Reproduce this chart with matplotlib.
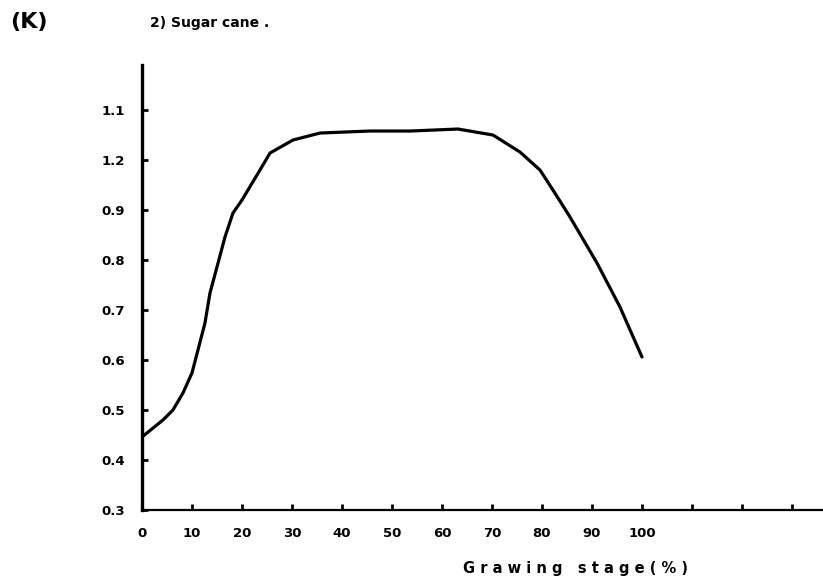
import matplotlib.pyplot as plt

# data
stage = [0, 4.2, 6.2, 8.2, 10, 11.2, 12.6, 13.6, 15, 16.6, 18.2, 20, 23.6, 25.6,
         30.2, 35.6, 45.6, 53.6, 63.2, 70.2, 75.6, 79.6, 82.2, 85.6, 91, 95.6, 100]
k_value = [0.446, 0.48, 0.50, 0.534, 0.574, 0.62, 0.674, 0.734, 0.786, 0.846, 0.894,
           0.92, 0.98, 1.014, 1.04, 1.054, 1.058, 1.058, 1.062, 1.05, 1.016, 0.98,
           0.94, 0.886, 0.794, 0.706, 0.606]

x_ticks = list(range(0, 140, 10))
x_labels = [str(t) if t <= 100 else "" for t in x_ticks]
y_ticks = [0.3, 0.4, 0.5, 0.6, 0.7, 0.8, 0.9, 1.0, 1.1]
y_labels = ["0.3", "0.4", "0.5", "0.6", "0.7", "0.8", "0.9", "1.2", "1.1"]  # as printed

fig = plt.figure(figsize=(8.23, 5.87), dpi=100)
ax = fig.add_axes([0.1725, 0.1312, 0.8275, 0.758])

ax.plot(stage, k_value, color="black", linewidth=2.3, solid_capstyle="round")

ax.set_xlim(0, 136.2)
ax.set_ylim(0.3, 1.19)
ax.set_xticks(x_ticks)
ax.set_xticklabels(x_labels, fontsize=9.5, fontweight="bold")
ax.set_yticks(y_ticks)
ax.set_yticklabels(y_labels, fontsize=9.5, fontweight="bold")
ax.tick_params(direction="in", length=4, width=2, color="black", pad=12)
ax.tick_params(axis="y", pad=12)

for side in ["top", "right"]:
    ax.spines[side].set_visible(False)
ax.spines["left"].set_linewidth(2.4)
ax.spines["bottom"].set_linewidth(1.6)

fig.text(0.012, 0.962, "(K)", fontsize=16, fontweight="bold", va="center")
fig.text(0.182, 0.96, "2) Sugar cane .", fontsize=10, fontweight="bold", va="center")
fig.text(0.699, 0.032, "G r a w i n g   s t a g e ( % )", fontsize=10.5,
         fontweight="bold", ha="center", va="center")

fig.savefig("out.png", dpi=100)
